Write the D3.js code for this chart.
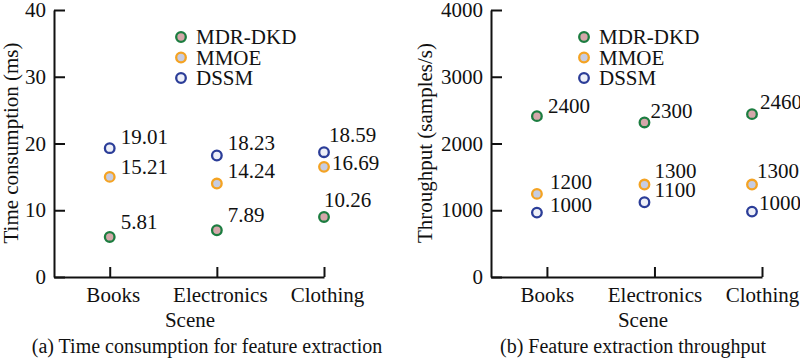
<!DOCTYPE html>
<html>
<head>
<meta charset="utf-8">
<script src="https://cdn.jsdelivr.net/npm/d3@7"></script>
<style>
  body { margin: 0; background: #fff; }
  svg { display: block; }
  text { font-family: "Liberation Serif", "Times New Roman", serif; fill: #111; }
</style>
</head>
<body>
<svg id="chart" width="800" height="358"></svg>
<script>
// ---------- data ----------
const categories = ["Books", "Electronics", "Clothing"];
const seriesNames = ["MDR-DKD", "MMOE", "DSSM"];

// (a) time consumption (ms): plotted positions
const timeMDR  = [6.0, 7.0, 9.0];
const timeMMOE = [15.0, 14.0, 16.5];
const timeDSSM = [19.3, 18.2, 18.7];
const timeLabelsMDR  = ["5.81", "7.89", "10.26"];
const timeLabelsMMOE = ["15.21", "14.24", "16.69"];
const timeLabelsDSSM = ["19.01", "18.23", "18.59"];
const timeTicks = [0, 10, 20, 30, 40];

// (b) throughput (samples/s)
const thrMDR  = [2410, 2315, 2440];
const thrMMOE = [1245, 1385, 1385];
const thrDSSM = [965, 1120, 980];
const thrLabelsMDR  = ["2400", "2300", "2460"];
const thrLabelsMMOE = ["1200", "1300", "1300"];
const thrLabelsDSSM = ["1000", "1100", "1000"];
const thrTicks = [0, 1000, 2000, 3000, 4000];

// ---------- layout / styles ----------
const strokeColors = ["#1c7d40", "#f4a323", "#2b3d98"];
const fillColors   = ["#d5a7aa", "#c6cce2", "#eef0f8"];
const FS = 21;
// label nudges [dx, dy-to-text-centre] per series, per category
const nudgeA = [
  [[11, -15], [11, -15], [0, -17]],
  [[11, -10], [11, -13], [8, -4]],
  [[11, -11], [11, -13], [5, -17]]
];
const nudgeB = [
  [[11, -10], [6, -11], [8, -12]],
  [[13, -12], [10, -14], [5, -14]],
  [[13, -8], [10, -12], [7, -9]]
];

const svg = d3.select("#chart");

function panel(cfg) {
  const g = svg.append("g");
  const x = d3.scaleLinear().domain([-0.52, 2]).range([cfg.x0, cfg.x1]);
  const y = d3.scaleLinear().domain(cfg.yDomain).range([277, 10]);

  const ya = g.append("g").attr("transform", `translate(${cfg.x0},0)`)
    .call(d3.axisLeft(y).tickValues(cfg.ticks).tickSizeInner(-11).tickSizeOuter(0).tickPadding(8).tickFormat(d3.format("d")));
  const xa = g.append("g").attr("transform", `translate(0,277)`)
    .call(d3.axisBottom(x).tickValues([0, 1, 2]).tickSizeInner(-10).tickSizeOuter(0).tickPadding(10)
      .tickFormat(i => categories[i]));
  [ya, xa].forEach(a => {
    a.select(".domain").attr("stroke", "#111").attr("stroke-width", 2);
    a.selectAll(".tick line").attr("stroke", "#111").attr("stroke-width", 2);
    a.selectAll(".tick text").attr("font-size", FS).attr("fill", "#111")
      .style("font-family", "'Liberation Serif', serif");
  });
  xa.selectAll(".tick text").attr("dx", cfg.tickDx);

  g.append("text")
    .attr("transform", `translate(${cfg.yTitleX},143) rotate(-90)`)
    .attr("text-anchor", "middle").attr("font-size", FS).text(cfg.yTitle);
  g.append("text").attr("x", cfg.sceneX).attr("y", 327)
    .attr("text-anchor", "middle").attr("font-size", FS).text("Scene");
  g.append("text").attr("x", cfg.capX).attr("y", 353)
    .attr("text-anchor", "middle").attr("font-size", 20).text(cfg.caption);

  cfg.series.forEach((vals, s) => {
    vals.forEach((v, i) => {
      const cx = x(i) + cfg.shift, cy = y(v);
      g.append("circle").attr("cx", cx).attr("cy", cy).attr("r", 4.8)
        .attr("fill", fillColors[s]).attr("stroke", strokeColors[s]).attr("stroke-width", 2.3);
      const n = cfg.nudge[s][i];
      g.append("text").attr("x", cx + n[0]).attr("y", cy + n[1] + 7)
        .attr("font-size", FS).text(cfg.labels[s][i]);
    });
  });

  seriesNames.forEach((n, s) => {
    const ly = 37 + s * 20.5;
    g.append("circle").attr("cx", cfg.legX).attr("cy", ly).attr("r", 4.8)
      .attr("fill", fillColors[s]).attr("stroke", strokeColors[s]).attr("stroke-width", 2.3);
    g.append("text").attr("x", cfg.legX + 15).attr("y", ly + 7)
      .attr("font-size", FS).text(n);
  });
}

panel({
  x0: 54, x1: 324, yDomain: [0, 40], ticks: timeTicks, shift: 0, tickDx: 3,
  series: [timeMDR, timeMMOE, timeDSSM],
  labels: [timeLabelsMDR, timeLabelsMMOE, timeLabelsDSSM], nudge: nudgeA,
  yTitle: "Time consumption (ms)", yTitleX: 18, sceneX: 190, capX: 207,
  caption: "(a) Time consumption for feature extraction", legX: 181
});
panel({
  x0: 491, x1: 762, yDomain: [0, 4000], ticks: thrTicks, shift: -10, tickDx: 0,
  series: [thrMDR, thrMMOE, thrDSSM],
  labels: [thrLabelsMDR, thrLabelsMMOE, thrLabelsDSSM], nudge: nudgeB,
  yTitle: "Throughput (samples/s)", yTitleX: 432, sceneX: 643, capX: 633,
  caption: "(b) Feature extraction throughput", legX: 584
});
</script>
</body>
</html>
